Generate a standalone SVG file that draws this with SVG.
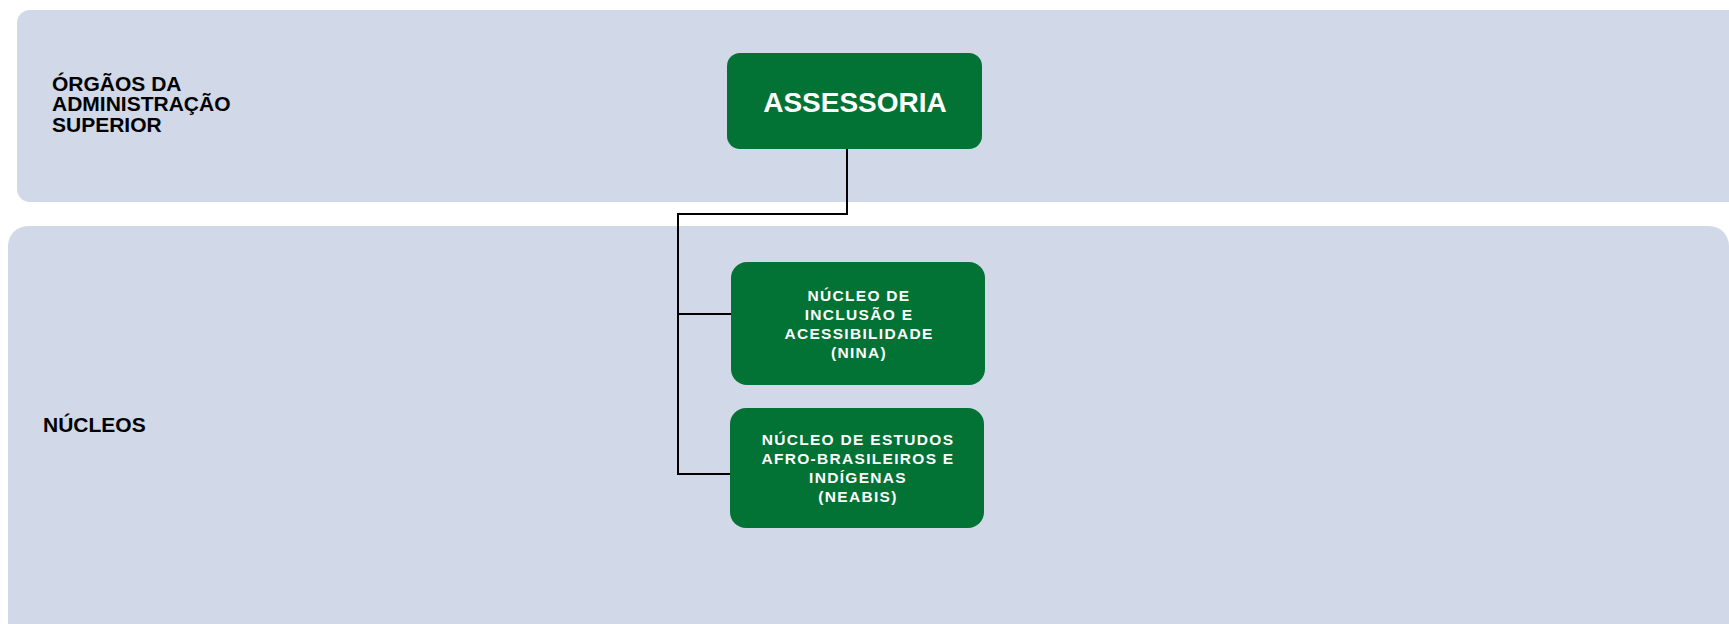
<svg xmlns="http://www.w3.org/2000/svg" width="1729" height="624" viewBox="0 0 1729 624">
<style>
.band{fill:#d1d8e7}
.box{fill:#037235}
.lbl{font-family:"Liberation Sans",Arial,sans-serif;font-weight:bold;fill:#000;font-size:21px}
.big{font-family:"Liberation Sans",Arial,sans-serif;font-weight:bold;fill:#fff;font-size:28px;text-anchor:middle}
.sm{font-family:"Liberation Sans",Arial,sans-serif;font-weight:bold;fill:#fff;font-size:15.5px;letter-spacing:1.3px;text-anchor:middle}
.con{fill:none;stroke:#000;stroke-width:2}
</style>
<rect width="1729" height="624" fill="#fff"/>
<g id="band-superior">
<rect class="band" x="17" y="10" width="1740" height="192" rx="13"/>
<text class="lbl" x="52" y="91">ÓRGÃOS DA</text>
<text class="lbl" x="52" y="111">ADMINISTRAÇÃO</text>
<text class="lbl" x="52" y="131.5">SUPERIOR</text>
</g>
<g id="band-nucleos">
<rect class="band" x="8" y="226" width="1721" height="420" rx="20"/>
<text class="lbl" x="43" y="432">NÚCLEOS</text>
</g>
<g id="connectors">
<path class="con" d="M847 149 V214 H678 V474 H731"/>
<path class="con" d="M678 314 H731"/>
</g>
<g id="assessoria">
<rect class="box" x="727" y="53" width="255" height="96" rx="13"/>
<text class="big" x="855" y="111.5">ASSESSORIA</text>
</g>
<g id="nina">
<rect class="box" x="731" y="262" width="254" height="123" rx="16"/>
<text class="sm" x="859" y="301">NÚCLEO DE</text>
<text class="sm" x="859" y="320">INCLUSÃO E</text>
<text class="sm" x="859" y="339">ACESSIBILIDADE</text>
<text class="sm" x="859" y="358">(NINA)</text>
</g>
<g id="neabis">
<rect class="box" x="730" y="408" width="254" height="120" rx="16"/>
<text class="sm" x="858" y="445">NÚCLEO DE ESTUDOS</text>
<text class="sm" x="858" y="464">AFRO-BRASILEIROS E</text>
<text class="sm" x="858" y="483">INDÍGENAS</text>
<text class="sm" x="858" y="502">(NEABIS)</text>
</g>
</svg>
